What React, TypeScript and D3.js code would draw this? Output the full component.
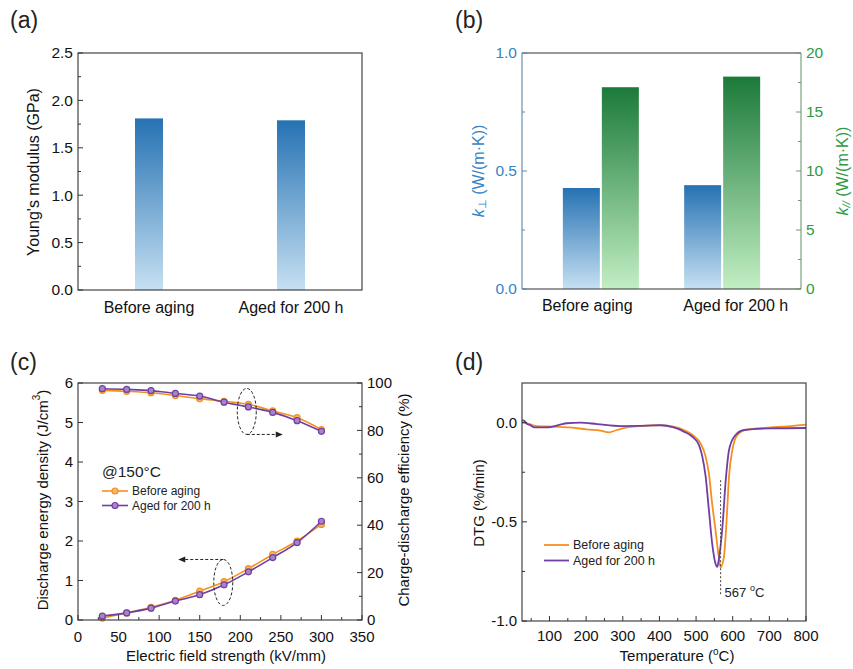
import React from "react";
import * as d3 from "d3";

// ---------- DATA ----------
const categories = ["Before aging", "Aged for 200 h"];
const youngModulus = [1.81, 1.79];
const kPerp = [0.428, 0.44];
const kPar = [17.1, 18.0];

const fieldStrength = [30, 60, 90, 120, 150, 180, 210, 240, 270, 300];
const energyBefore = [0.05, 0.18, 0.32, 0.5, 0.73, 0.97, 1.3, 1.66, 2.0, 2.42];
const energyAged = [0.1, 0.18, 0.3, 0.48, 0.64, 0.89, 1.22, 1.58, 1.96, 2.5];
const effBefore = [96.9, 96.5, 95.9, 94.7, 93.4, 92.3, 91.0, 88.2, 85.4, 80.3];
const effAged = [97.6, 97.3, 96.8, 95.6, 94.5, 91.9, 89.9, 87.6, 84.1, 79.6];

const dtgTempBefore = [25, 29, 65, 111, 157, 202, 239, 262, 284, 312, 366, 403, 439, 467, 494, 512, 526, 535, 544, 553, 562, 567, 576, 584, 590, 599, 613, 640, 704, 750, 800];
const dtgBefore = [0.0, 0.0, -0.017, -0.02, -0.024, -0.034, -0.04, -0.049, -0.037, -0.024, -0.015, -0.012, -0.02, -0.037, -0.067, -0.104, -0.17, -0.256, -0.41, -0.54, -0.677, -0.73, -0.677, -0.47, -0.27, -0.138, -0.062, -0.034, -0.024, -0.019, -0.01];
const dtgTempAged = [25, 29, 38, 47, 56, 65, 93, 129, 147, 184, 230, 293, 366, 403, 439, 467, 490, 508, 517, 526, 535, 544, 553, 558, 562, 572, 581, 590, 604, 631, 704, 800];
const dtgAged = [0.01, 0.012, -0.005, -0.012, -0.022, -0.024, -0.024, -0.01, -0.003, 0.0, -0.007, -0.017, -0.015, -0.013, -0.024, -0.045, -0.071, -0.113, -0.17, -0.27, -0.44, -0.61, -0.71, -0.727, -0.69, -0.525, -0.29, -0.138, -0.071, -0.037, -0.029, -0.027];

const youngTicks = [0, 0.5, 1.0, 1.5, 2.0, 2.5];
const kPerpTicks = [0, 0.5, 1.0];
const kParTicks = [0, 5, 10, 15, 20];
const fieldTicks = [0, 50, 100, 150, 200, 250, 300, 350];
const energyTicks = [0, 1, 2, 3, 4, 5, 6];
const effTicks = [0, 20, 40, 60, 80, 100];
const tempTicks = [100, 200, 300, 400, 500, 600, 700, 800];
const dtgTicks = [-1.0, -0.5, 0.0];

// ---------- STYLE ----------
const FONT = "'Liberation Sans', Arial, Helvetica, sans-serif";
const AXIS = "#333";
const ORANGE = "#f5901e";
const PURPLE = "#6f3fa3";
const BLUE_TXT = "#3584c4";
const GREEN_TXT = "#2f9a3f";

function minorBetween(ticks: number[], n = 2) {
  const out: number[] = [];
  for (let i = 0; i < ticks.length - 1; i++) {
    const step = (ticks[i + 1] - ticks[i]) / n;
    for (let k = 1; k < n; k++) out.push(ticks[i] + k * step);
  }
  return out;
}

function Frame({ x0, x1, y0, y1, stroke = AXIS }: any) {
  return <rect x={x0} y={y0} width={x1 - x0} height={y1 - y0} fill="none" stroke={stroke} strokeWidth={1.1} />;
}

function YTicks({ scale, ticks, minor, x, side = "left", fmt, color = "#111", tickColor = AXIS, fs = 15 }: any) {
  const dir = side === "left" ? 1 : -1;
  return (
    <g>
      {ticks.map((t: number) => (
        <g key={"M" + t}>
          <line x1={x} x2={x + dir * 5} y1={scale(t)} y2={scale(t)} stroke={tickColor} strokeWidth={1} />
          <text x={x - dir * 5} y={scale(t)} dy="0.35em" textAnchor={side === "left" ? "end" : "start"} fontSize={fs} fill={color} fontFamily={FONT}>
            {fmt(t)}
          </text>
        </g>
      ))}
      {(minor || []).map((t: number) => (
        <line key={"m" + t} x1={x} x2={x + dir * 3} y1={scale(t)} y2={scale(t)} stroke={tickColor} strokeWidth={1} />
      ))}
    </g>
  );
}

function XTicks({ scale, ticks, minor, y, fmt, fs = 15, off = 20 }: any) {
  return (
    <g>
      {ticks.map((t: number) => (
        <g key={"M" + t}>
          <line x1={scale(t)} x2={scale(t)} y1={y} y2={y - 5} stroke={AXIS} strokeWidth={1} />
          <text x={scale(t)} y={y + off} textAnchor="middle" fontSize={fs} fill="#111" fontFamily={FONT}>
            {fmt(t)}
          </text>
        </g>
      ))}
      {(minor || []).map((t: number) => (
        <line key={"m" + t} x1={scale(t)} x2={scale(t)} y1={y} y2={y - 3} stroke={AXIS} strokeWidth={1} />
      ))}
    </g>
  );
}

function VLabel({ x, y, children, color = "#111", fs = 16 }: any) {
  return (
    <text transform={`translate(${x},${y}) rotate(-90)`} textAnchor="middle" dominantBaseline="central" fontSize={fs} fill={color} fontFamily={FONT}>
      {children}
    </text>
  );
}

function PanelA() {
  const x0 = 78, x1 = 362, y0 = 53, y1 = 290;
  const x = d3.scalePoint<string>().domain(categories).range([x0, x1]).padding(0.5);
  const y = d3.scaleLinear().domain([0, 2.5]).range([y1, y0]);
  const bw = 28;
  return (
    <g>
      <text x={10} y={28} fontSize={23} fontFamily={FONT} fill="#222">(a)</text>
      {categories.map((c, i) => (
        <rect key={c} x={(x(c) as number) - bw / 2} y={y(youngModulus[i])} width={bw} height={y(0) - y(youngModulus[i])} fill="url(#gBlue)" />
      ))}
      <Frame x0={x0} x1={x1} y0={y0} y1={y1} />
      <YTicks scale={y} ticks={youngTicks} minor={minorBetween(youngTicks)} x={x0} fmt={(t: number) => t.toFixed(1)} fs={15.5} />
      {categories.map((c) => (
        <text key={c} x={x(c)} y={313} textAnchor="middle" fontSize={16} fontFamily={FONT} fill="#111">{c}</text>
      ))}
      <VLabel x={33} y={172}>Young's modulus (GPa)</VLabel>
    </g>
  );
}

function PanelB() {
  const x0 = 522, x1 = 801, y0 = 53, y1 = 289;
  const x = d3.scalePoint<string>().domain(categories).range([x0, x1]).padding(0.65);
  const xl = d3.scalePoint<string>().domain(categories).range([x0, x1]).padding(0.44);
  const yL = d3.scaleLinear().domain([0, 1]).range([y1, y0]);
  const yR = d3.scaleLinear().domain([0, 20]).range([y1, y0]);
  const bw = 37;
  return (
    <g>
      <text x={455} y={28} fontSize={23} fontFamily={FONT} fill="#222">(b)</text>
      {categories.map((c, i) => {
        const cx = x(c) as number;
        return (
          <g key={c}>
            <rect x={cx - bw - 1} y={yL(kPerp[i])} width={bw} height={yL(0) - yL(kPerp[i])} fill="url(#gBlue)" />
            <rect x={cx + 1} y={yR(kPar[i])} width={bw} height={yR(0) - yR(kPar[i])} fill="url(#gGreen)" />
          </g>
        );
      })}
      <line x1={x0} x2={x1} y1={y0} y2={y0} stroke={AXIS} strokeWidth={1.1} />
      <line x1={x0} x2={x1} y1={y1} y2={y1} stroke={AXIS} strokeWidth={1.1} />
      <line x1={x0} x2={x0} y1={y0} y2={y1} stroke="#5c86a8" strokeWidth={1.1} />
      <line x1={x1} x2={x1} y1={y0} y2={y1} stroke="#6a9a74" strokeWidth={1.1} />
      <YTicks scale={yL} ticks={kPerpTicks} minor={minorBetween(kPerpTicks)} x={x0} fmt={(t: number) => t.toFixed(1)} color={BLUE_TXT} tickColor="#5c86a8" fs={15.5} />
      <YTicks scale={yR} ticks={kParTicks} minor={minorBetween(kParTicks)} x={x1} side="right" fmt={(t: number) => String(t)} color={GREEN_TXT} tickColor="#6a9a74" fs={15.5} />
      {categories.map((c) => (
        <text key={c} x={xl(c)} y={311} textAnchor="middle" fontSize={16} fontFamily={FONT} fill="#111">{c}</text>
      ))}
      <VLabel x={478} y={171} color={BLUE_TXT}>
        <tspan fontStyle="italic">k</tspan>
        <tspan fontSize={11} dy={4}>⊥</tspan>
        <tspan dy={-4}> (W/(m·K))</tspan>
      </VLabel>
      <VLabel x={842} y={171} color={GREEN_TXT}>
        <tspan fontStyle="italic">k</tspan>
        <tspan fontSize={11} dy={4} fontStyle="italic">//</tspan>
        <tspan dy={-4}> (W/(m·K))</tspan>
      </VLabel>
    </g>
  );
}

function Arrowhead({ x, y, dir }: any) {
  const p = dir > 0 ? `${x},${y} ${x - 7},${y - 3} ${x - 7},${y + 3}` : `${x},${y} ${x + 7},${y - 3} ${x + 7},${y + 3}`;
  return <polygon points={p} fill="#222" />;
}

function PanelC() {
  const x0 = 78, x1 = 362, y0 = 383, y1 = 620;
  const x = d3.scaleLinear().domain([0, 350]).range([x0, x1]);
  const yL = d3.scaleLinear().domain([0, 6]).range([y1, y0]);
  const yR = d3.scaleLinear().domain([0, 100]).range([y1, y0]);
  const mk = (ys: number[], sc: any) => d3.line<number>().x((_, i) => x(fieldStrength[i])).y((v) => sc(v)).curve(d3.curveMonotoneX)(ys) as string;
  const series = [
    { vals: effBefore, sc: yR, color: ORANGE, fill: "#f9b46a" },
    { vals: effAged, sc: yR, color: PURPLE, fill: "#a584cc" },
    { vals: energyBefore, sc: yL, color: ORANGE, fill: "#f9b46a" },
    { vals: energyAged, sc: yL, color: PURPLE, fill: "#a584cc" },
  ];
  const e1x = x(208), e1y = yR(88);
  const e2x = x(179), e2y = yL(0.95);
  return (
    <g>
      <text x={10} y={370} fontSize={23} fontFamily={FONT} fill="#222">(c)</text>
      {series.map((s, k) => (
        <g key={k}>
          <path d={mk(s.vals, s.sc)} fill="none" stroke={s.color} strokeWidth={1.6} />
          {s.vals.map((v, i) => (
            <circle key={i} cx={x(fieldStrength[i])} cy={s.sc(v)} r={3} fill={s.fill} stroke={s.color} strokeWidth={1.2} />
          ))}
        </g>
      ))}
      <ellipse cx={e1x} cy={e1y} rx={9.5} ry={23} fill="none" stroke="#222" strokeWidth={1} strokeDasharray="3,2" />
      <line x1={e1x} x2={e1x + 33} y1={e1y + 23} y2={e1y + 23} stroke="#222" strokeWidth={1} strokeDasharray="3,2" />
      <Arrowhead x={e1x + 36} y={e1y + 23} dir={1} />
      <ellipse cx={e2x} cy={e2y} rx={9.5} ry={23} fill="none" stroke="#222" strokeWidth={1} strokeDasharray="3,2" />
      <line x1={e2x} x2={e2x - 40} y1={e2y - 23} y2={e2y - 23} stroke="#222" strokeWidth={1} strokeDasharray="3,2" />
      <Arrowhead x={e2x - 45} y={e2y - 23} dir={-1} />
      <Frame x0={x0} x1={x1} y0={y0} y1={y1} />
      <YTicks scale={yL} ticks={energyTicks} x={x0} fmt={(t: number) => String(t)} />
      <YTicks scale={yR} ticks={effTicks} minor={minorBetween(effTicks)} x={x1} side="right" fmt={(t: number) => String(t)} />
      <XTicks scale={x} ticks={fieldTicks} minor={minorBetween(fieldTicks)} y={y1} fmt={(t: number) => String(t)} off={22} />
      <text x={102} y={477} fontSize={15.5} fontFamily={FONT} fill="#222">@150°C</text>
      {[{ n: "Before aging", c: ORANGE, f: "#f9b46a" }, { n: "Aged for 200 h", c: PURPLE, f: "#a584cc" }].map((l, i) => (
        <g key={l.n}>
          <line x1={102} x2={128} y1={491 + i * 14.5} y2={491 + i * 14.5} stroke={l.c} strokeWidth={1.6} />
          <circle cx={115} cy={491 + i * 14.5} r={3} fill={l.f} stroke={l.c} strokeWidth={1.2} />
          <text x={132} y={491 + i * 14.5} dy="0.35em" fontSize={12} fontFamily={FONT} fill="#222">{l.n}</text>
        </g>
      ))}
      <VLabel x={42} y={500} fs={15}>
        Discharge energy density (J/cm<tspan fontSize={10} dy={-6}>3</tspan><tspan dy={6}>)</tspan>
      </VLabel>
      <VLabel x={403} y={500} fs={15}>Charge-discharge efficiency (%)</VLabel>
      <text x={226} y={661} textAnchor="middle" fontSize={15} fontFamily={FONT} fill="#111">Electric field strength (kV/mm)</text>
    </g>
  );
}

function PanelD() {
  const x0 = 522, x1 = 806, y0 = 383, y1 = 621;
  const x = d3.scaleLinear().domain([25, 800]).range([x0, x1]);
  const y = d3.scaleLinear().domain([-1, 0.2]).range([y1, y0]);
  const mk = (xs: number[], ys: number[]) => d3.line<number>().x((_, i) => x(xs[i])).y((v) => y(v)).curve(d3.curveMonotoneX)(ys) as string;
  const minorT = [50, 150, 250, 350, 450, 550, 650, 750];
  return (
    <g>
      <text x={455} y={370} fontSize={23} fontFamily={FONT} fill="#222">(d)</text>
      <path d={mk(dtgTempBefore, dtgBefore)} fill="none" stroke={ORANGE} strokeWidth={1.8} />
      <path d={mk(dtgTempAged, dtgAged)} fill="none" stroke={PURPLE} strokeWidth={1.8} />
      <line x1={x(567)} x2={x(567)} y1={y(-0.29)} y2={y(-0.87)} stroke="#444" strokeWidth={1} strokeDasharray="2,2" />
      <text x={x(567) + 4} y={597} fontSize={13} fontFamily={FONT} fill="#222">
        567 <tspan fontSize={9} dy={-6}>o</tspan><tspan dy={6}>C</tspan>
      </text>
      <Frame x0={x0} x1={x1} y0={y0} y1={y1} />
      <YTicks scale={y} ticks={dtgTicks} minor={[-0.75, -0.25]} x={x0} fmt={(t: number) => t.toFixed(1)} />
      <XTicks scale={x} ticks={tempTicks} minor={minorT} y={y1} fmt={(t: number) => String(t)} />
      {[{ n: "Before aging", c: ORANGE }, { n: "Aged for 200 h", c: PURPLE }].map((l, i) => (
        <g key={l.n}>
          <line x1={544} x2={569} y1={545 + i * 15.5} y2={545 + i * 15.5} stroke={l.c} strokeWidth={1.8} />
          <text x={573} y={545 + i * 15.5} dy="0.35em" fontSize={12.5} fontFamily={FONT} fill="#222">{l.n}</text>
        </g>
      ))}
      <VLabel x={478} y={503} fs={15}>DTG (%/min)</VLabel>
      <text x={677} y={661} textAnchor="middle" fontSize={15} fontFamily={FONT} fill="#111">
        Temperature (<tspan fontSize={10} dy={-6}>o</tspan><tspan dy={6}>C)</tspan>
      </text>
    </g>
  );
}

export default function App() {
  return (
    <svg width={853} height={669} viewBox="0 0 853 669" style={{ position: "absolute", left: 0, top: 0, background: "#fff" }}>
      <defs>
        <linearGradient id="gBlue" x1="0" y1="0" x2="0" y2="1">
          <stop offset="0" stopColor="#2672b3" />
          <stop offset="1" stopColor="#c6e0f2" />
        </linearGradient>
        <linearGradient id="gGreen" x1="0" y1="0" x2="0" y2="1">
          <stop offset="0" stopColor="#1b7a3a" />
          <stop offset="1" stopColor="#c2eec3" />
        </linearGradient>
      </defs>
      <rect width={853} height={669} fill="#fff" />
      <PanelA />
      <PanelB />
      <PanelC />
      <PanelD />
    </svg>
  );
}
